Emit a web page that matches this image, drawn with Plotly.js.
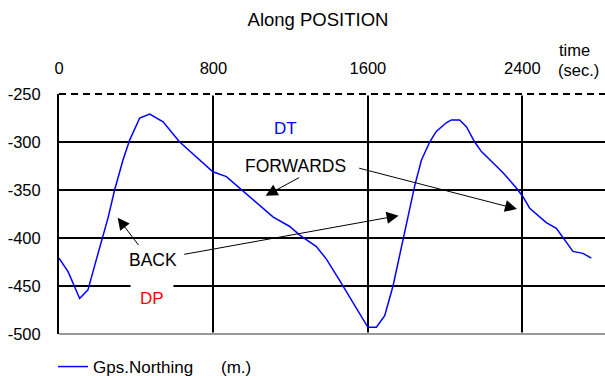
<!DOCTYPE html>
<html><head><meta charset="utf-8">
<script src="https://cdn.plot.ly/plotly-3.0.1.min.js"></script>
<style>body{margin:0;background:#fff}#chart{width:605px;height:376px}</style>
</head><body><div id="chart"></div>
<script>
const timeSec = [0, 47, 107, 150, 194, 228, 254, 288, 331, 366, 418, 470, 539, 625, 728, 797, 867, 919, 988, 1108, 1195, 1247, 1333, 1385, 1462, 1523, 1574, 1600, 1644, 1687, 1730, 1764, 1799, 1842, 1877, 1920, 1954, 2006, 2032, 2075, 2110, 2153, 2188, 2240, 2300, 2369, 2403, 2438, 2490, 2524, 2576, 2610, 2662, 2714, 2757];
const northing = [-421, -435, -463, -454, -422, -398, -379, -350, -319, -298, -275, -271, -279, -300, -319, -331, -336, -345, -357, -378, -388, -397, -409, -422, -447, -467, -485, -493, -493, -481, -450, -419, -388, -346, -319, -300, -289, -280, -277, -277, -284, -300, -310, -320, -332, -348, -357, -369, -378, -384, -390, -400, -414, -416, -421];
const xTicks = [0, 800, 1600, 2400];
const xTickLabels = ['0', '800', '1600', '2400'];
const yTicks = [-500, -450, -400, -350, -300, -250];
const yTickLabels = ['-500', '-450', '-400', '-350', '-300', '-250'];
const seriesName = 'Gps.Northing';
const seriesUnit = '(m.)';

const FONT = 'Liberation Sans, Arial, sans-serif';
const yTop = yTicks[yTicks.length - 1], yBot = yTicks[0];

const trace = {
  x: timeSec, y: northing, type: 'scatter', mode: 'lines', name: seriesName,
  line: {color: '#0000ff', width: 1.5}
};

function arrow(x, y, ax, ay) {
  return {x: x, y: y, ax: ax, ay: ay, xref: 'x', yref: 'y', axref: 'x', ayref: 'y',
    text: '', showarrow: true, arrowhead: 2, arrowsize: 2.4, arrowwidth: 1, arrowcolor: '#000', standoff: 0, startstandoff: 0};
}
function label(x, y, text, size, color, extra) {
  return Object.assign({x: x, y: y, xref: 'paper', yref: 'paper', text: text, showarrow: false,
    xanchor: 'center', yanchor: 'middle', font: {family: FONT, size: size, color: color}}, extra || {});
}

const layout = {
  width: 605, height: 376,
  margin: {l: 59, r: 0, t: 94, b: 42, autoexpand: false},
  paper_bgcolor: '#fff', plot_bgcolor: '#fff',
  font: {family: FONT, size: 16.5, color: '#000'},
  title: {text: 'Along POSITION', font: {family: FONT, size: 18.5, color: '#000'},
    x: 318/605, xanchor: 'center', y: 1 - 20/376, yanchor: 'middle'},
  showlegend: true,
  legend: {x: -0.011, xanchor: 'left', y: -0.1375, yanchor: 'middle', orientation: 'h',
    font: {family: FONT, size: 17, color: '#000'}, bgcolor: 'rgba(0,0,0,0)'},
  xaxis: {side: 'top', range: [0, 2828], tickvals: xTicks, ticktext: xTickLabels,
    showgrid: true, gridcolor: '#000', gridwidth: 2, zeroline: false, showline: false,
    ticks: 'outside', ticklen: 12, tickcolor: 'rgba(0,0,0,0)',
    tickfont: {family: FONT, size: 16.5, color: '#000'}, fixedrange: true},
  yaxis: {range: [yBot, yTop], tickvals: yTicks, ticktext: yTickLabels,
    showgrid: true, gridcolor: '#000', gridwidth: 2, zeroline: false,
    showline: true, linecolor: '#000', linewidth: 2,
    ticks: 'outside', ticklen: 13, tickcolor: 'rgba(0,0,0,0)',
    tickfont: {family: FONT, size: 16.5, color: '#000'}, fixedrange: true},
  shapes: [
    {type: 'line', xref: 'paper', yref: 'paper', x0: 0.003, x1: 1, y0: 1, y1: 1, line: {color: '#fff', width: 3}},
    {type: 'line', xref: 'paper', yref: 'paper', x0: 0, x1: 1, y0: 1, y1: 1, line: {color: '#000', width: 2, dash: '7px,5px'}},
    {type: 'line', xref: 'paper', yref: 'paper', x0: 0.003, x1: 1, y0: 0, y1: 0, line: {color: '#fff', width: 3}},
    {type: 'line', xref: 'paper', yref: 'paper', x0: 0, x1: 1, y0: 0, y1: 0, line: {color: '#999', width: 2}}
  ],
  annotations: [
    {x: 1174, y: -285.8, xref: 'x', yref: 'y', text: 'DT', showarrow: false, font: {family: FONT, size: 17, color: '#0000ff'}},
    {x: 483, y: -463.5, xref: 'x', yref: 'y', text: 'DP', showarrow: false, bgcolor: '#fff', borderpad: 9, font: {family: FONT, size: 17, color: '#ff0000'}},
    {x: 1223, y: -325.3, xref: 'x', yref: 'y', text: 'FORWARDS', showarrow: false, font: {family: FONT, size: 17.5, color: '#000'}},
    {x: 488, y: -423, xref: 'x', yref: 'y', text: 'BACK', showarrow: false, font: {family: FONT, size: 17.5, color: '#000'}},
    arrow(304, -378.8, 418, -409),
    arrow(1759, -376.7, 641, -417.3),
    arrow(1070, -356, 1252, -336.2),
    arrow(2372, -369.8, 1547, -326.9),
    label((574 - 59) / 546, (334 - 50) / 240, 'time', 16.5, '#000'),
    label((578 - 59) / 546, (334 - 70) / 240, '(sec.)', 16.5, '#000'),
    label((235.5 - 59) / 546, (334 - 367) / 240, seriesUnit, 17, '#000')
  ]
};

Plotly.newPlot('chart', [trace], layout, {displayModeBar: false, staticPlot: true});
</script>
</body></html>
